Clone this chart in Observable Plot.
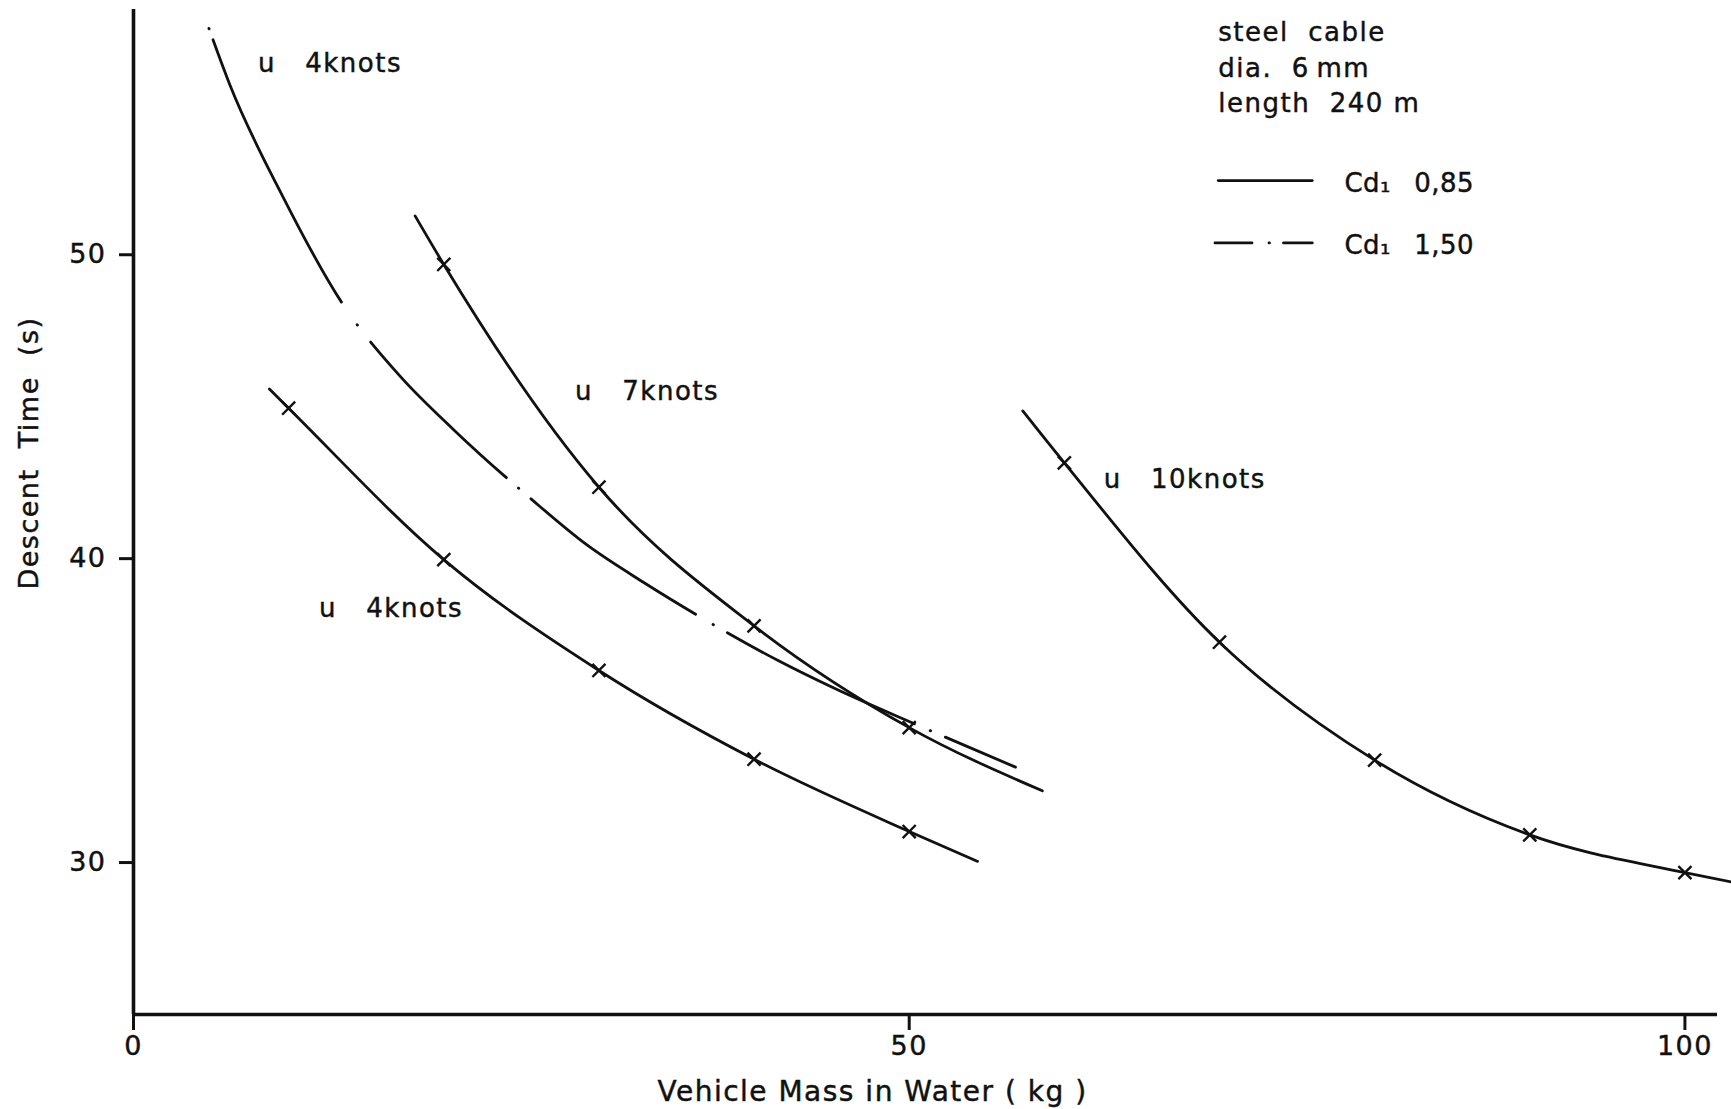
<!DOCTYPE html>
<html>
<head>
<meta charset="utf-8">
<script src="https://cdn.jsdelivr.net/npm/d3@7"></script>
<script src="https://cdn.jsdelivr.net/npm/@observablehq/plot@0.6"></script>
<style>
  html, body { margin: 0; padding: 0; background: #fff; }
  #chart svg text { letter-spacing: 1.5px; stroke: #111; stroke-width: 0.45px; }
  #chart svg text.tight, #chart svg g.tight text { letter-spacing: 0.5px; }
</style>
</head>
<body>
<div id="chart"></div>
<script>
// ---------- data ----------
// axes
const xTicks = [0, 50, 100];
const yTicks = [30, 40, 50];
const xDomain = [0, 102.1];
const yDomain = [25, 58.07];

// u = 4 knots, Cd 0.85 (solid, with markers)
const mass4a = [8.76, 10, 20, 30, 40, 50, 54.4];
const time4a = [45.58, 44.95, 39.97, 36.32, 33.40, 31.02, 30.04];
const mark4aMass = [10, 20, 30, 40, 50];
const mark4aTime = [44.95, 39.97, 36.32, 33.40, 31.02];

// u = 7 knots, Cd 0.85 (solid, with markers)
const mass7 = [18.15, 20, 30, 40, 50, 58.58];
const time7 = [51.28, 49.68, 42.35, 37.79, 34.44, 32.36];
const mark7Mass = [20, 30, 40, 50];
const mark7Time = [49.68, 42.35, 37.79, 34.44];

// u = 10 knots, Cd 0.85 (solid, with markers)
const mass10 = [57.32, 60, 70, 80, 90, 100, 103.0];
const time10 = [44.86, 43.15, 37.25, 33.37, 30.91, 29.67, 29.36];
const mark10Mass = [60, 70, 80, 90, 100];
const mark10Time = [43.15, 37.25, 33.37, 30.91, 29.67];

// u = 4 knots, Cd 1.50 (dash-dot, no markers)
const mass4b = [4.86, 6.19, 9.65, 13.47, 17.21, 20.6, 25.66, 29.23, 32.94, 36.27, 41.58, 45.28, 50.37, 56.85];
const time4b = [57.45, 55.62, 51.89, 48.39, 45.99, 44.26, 41.95, 40.45, 39.20, 38.16, 36.64, 35.71, 34.56, 33.14];

// curve labels
const labelMass = [8.02, 28.46, 11.96, 62.54];
const labelTime = [56.0, 45.23, 38.08, 42.31];
const labelText = ["u\u00a0\u00a0\u00a04knots", "u\u00a0\u00a0\u00a07knots", "u\u00a0\u00a0\u00a04knots", "u\u00a0\u00a0\u00a010knots"];

// note block (top right)
const noteMass = [69.92, 69.92, 69.92];
const noteTime = [57.02, 55.86, 54.69];
const noteText = ["steel\u00a0\u00a0cable", "dia.\u00a0\u00a06\u2009mm", "length\u00a0\u00a0240\u00a0m"];

// legend
const legendKeyMass = [69.92, 75.98];
const legendKeyMass2 = [69.71, 75.98];
const legendTime = [52.44, 50.39];
const legendTextMass = 78.05;
const legendTextTime = [52.06, 50.04];
const legendText = ["Cd\u2081\u00a0\u2009 0,85", "Cd\u2081\u00a0\u2009 1,50"];

const xTitle = "Vehicle Mass in Water ( kg )";
const yTitle = "Descent\u00a0 Time\u00a0 (s)";

// ---------- build tables ----------
const zip = (xs, ys) => xs.map((x, i) => ({mass: x, time: ys[i]}));
const line4a = zip(mass4a, time4a);
const line7 = zip(mass7, time7);
const line10 = zip(mass10, time10);
const line4b = zip(mass4b, time4b);
const markers = [
  ...zip(mark4aMass, mark4aTime),
  ...zip(mark7Mass, mark7Time),
  ...zip(mark10Mass, mark10Time)
];
const labels = labelText.map((t, i) => ({mass: labelMass[i], time: labelTime[i], text: t}));
const notes = noteText.map((t, i) => ({mass: noteMass[i], time: noteTime[i], text: t}));
const legendSolid = legendKeyMass.map(m => ({mass: m, time: legendTime[0]}));
const legendDash = legendKeyMass2.map(m => ({mass: m, time: legendTime[1]}));
const legendLabels = legendText.map((t, i) => ({mass: legendTextMass, time: legendTextTime[i], text: t}));

const ink = "#111";
const curveW = 2.8;
const curve = "monotone-x";

const chart = Plot.plot({
  width: 1731,
  height: 1109,
  marginLeft: 133,
  marginRight: 14,
  marginTop: 9,
  marginBottom: 95,
  style: {fontFamily: "'DejaVu Sans', sans-serif", fontSize: "26px", background: "white", color: ink, overflow: "visible"},
  x: {domain: xDomain},
  y: {domain: yDomain},
  marks: [
    Plot.ruleX([0], {stroke: ink, strokeWidth: 3.6}),
    Plot.ruleY([25], {stroke: ink, strokeWidth: 3.6}),
    Plot.axisX({ticks: xTicks, tickSize: 16, tickPadding: 5, strokeWidth: 3, fontSize: 27, label: null, tickFormat: d => String(d)}),
    Plot.axisY({ticks: yTicks, tickSize: 14, tickPadding: 13, strokeWidth: 3, fontSize: 27, label: null}),
    Plot.line(line4a, {x: "mass", y: "time", curve, stroke: ink, strokeWidth: curveW}),
    Plot.line(line7, {x: "mass", y: "time", curve, stroke: ink, strokeWidth: curveW}),
    Plot.line(line10, {x: "mass", y: "time", curve, stroke: ink, strokeWidth: curveW, strokeLinecap: "round"}),
    Plot.line(line4b, {x: "mass", y: "time", curve, stroke: ink, strokeWidth: curveW,
      strokeLinecap: "round",
      strokeDasharray: "0.5 11.6 292.6 27.5 0.5 21.5 192 15.9 0.5 16.1 201.5 20.1 0.5 16.1 208.3 17.1 0.5 16 600"}),
    Plot.dot(markers, {x: "mass", y: "time", symbol: "times", r: 6, stroke: ink, strokeWidth: 2.4}),
    Plot.text(labels, {x: "mass", y: "time", text: "text", textAnchor: "start", lineAnchor: "bottom", fontSize: 26}),
    Plot.text(notes, {x: "mass", y: "time", text: "text", textAnchor: "start", lineAnchor: "bottom", fontSize: 26}),
    Plot.line(legendSolid, {x: "mass", y: "time", stroke: ink, strokeWidth: curveW}),
    Plot.line(legendDash, {x: "mass", y: "time", stroke: ink, strokeWidth: curveW, strokeLinecap: "round", strokeDasharray: "37 17 0.5 14 40"}),
    Plot.text(legendLabels, {x: "mass", y: "time", text: "text", textAnchor: "start", lineAnchor: "bottom", fontSize: 26, className: "tight"}),
    Plot.text([yTitle], {text: d => d, frameAnchor: "left", rotate: -90, dx: -104, dy: -59, fontSize: 27, textAnchor: "middle", lineAnchor: "middle"}),
    Plot.text([xTitle], {text: d => d, frameAnchor: "bottom", dx: -53, dy: 86, fontSize: 28, textAnchor: "middle", lineAnchor: "bottom"})
  ]
});
document.getElementById("chart").appendChild(chart);
</script>
</body>
</html>
